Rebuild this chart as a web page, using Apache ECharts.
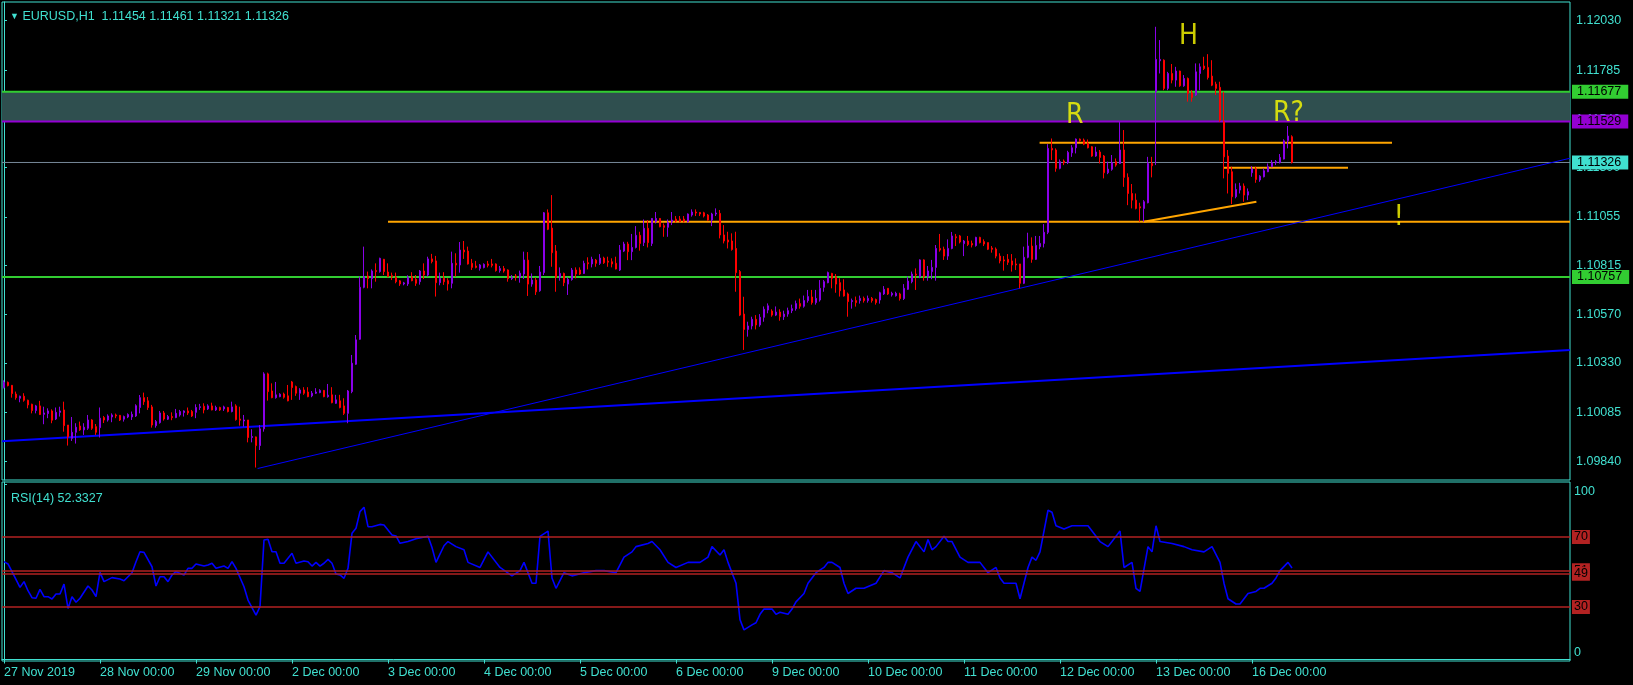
<!DOCTYPE html>
<html><head><meta charset="utf-8">
<script src="https://cdn.jsdelivr.net/npm/echarts@6/dist/echarts.min.js"></script>
<style>html,body{margin:0;padding:0;background:#000}#c{width:1633px;height:685px}</style>
</head><body><div id="c"></div>
<script>
// ---- tick labels ----
const dayLabels = ['27 Nov 2019','28 Nov 00:00','29 Nov 00:00','2 Dec 00:00','3 Dec 00:00','4 Dec 00:00','5 Dec 00:00','6 Dec 00:00','9 Dec 00:00','10 Dec 00:00','11 Dec 00:00','12 Dec 00:00','13 Dec 00:00','16 Dec 00:00'];
const barsPerDay = 24;
const slotCount = 392; // hourly slots shown, incl. empty space right of last bar
const priceTicks = [1.12030,1.11785,1.11540,1.11300,1.11055,1.10815,1.10570,1.10330,1.10085,1.09840];
const rsiTicks = [0,100];

// ---- EURUSD H1 bars: [open, high, low, close] ----
const hourlyBars = [
[1.10208,1.10244,1.10204,1.10234],[1.10234,1.10238,1.10214,1.10218],[1.10219,1.10221,1.10158,1.10178],[1.10176,1.10188,1.10148,1.10158],
[1.10155,1.10168,1.10135,1.10165],[1.10165,1.10180,1.10138,1.10145],[1.10145,1.10148,1.10105,1.10122],[1.10125,1.10128,1.10080,1.10094],
[1.10094,1.10122,1.10080,1.10117],[1.10117,1.10142,1.10072,1.10074],[1.10075,1.10113,1.10026,1.10082],[1.10079,1.10105,1.10056,1.10092],
[1.10092,1.10100,1.10031,1.10046],[1.10052,1.10109,1.10047,1.10085],[1.10085,1.10113,1.10064,1.10092],[1.10097,1.10138,1.09989,1.10019],
[1.10022,1.10022,1.09920,1.09963],[1.09956,1.10062,1.09943,1.09986],[1.09986,1.10031,1.09930,1.10011],[1.10017,1.10039,1.09993,1.09998],
[1.09998,1.10031,1.09973,1.10011],[1.10006,1.10072,1.09998,1.10047],[1.10047,1.10051,1.09998,1.10006],[1.10014,1.10027,1.09973,1.09986],
[1.10009,1.10109,1.09960,1.10056],[1.10059,1.10067,1.10032,1.10047],[1.10047,1.10075,1.10039,1.10067],[1.10062,1.10080,1.10036,1.10072],
[1.10072,1.10079,1.10056,1.10067],[1.10070,1.10072,1.10042,1.10047],[1.10051,1.10069,1.10039,1.10064],[1.10062,1.10080,1.10056,1.10074],
[1.10062,1.10089,1.10047,1.10075],[1.10067,1.10125,1.10062,1.10118],[1.10109,1.10171,1.10080,1.10158],[1.10158,1.10183,1.10122,1.10138],
[1.10142,1.10161,1.10097,1.10109],[1.10112,1.10122,1.10009,1.10022],[1.10019,1.10047,1.10009,1.10039],[1.10034,1.10092,1.10029,1.10082],
[1.10082,1.10092,1.10044,1.10052],[1.10051,1.10072,1.10047,1.10064],[1.10064,1.10085,1.10046,1.10059],[1.10059,1.10102,1.10056,1.10080],
[1.10072,1.10097,1.10064,1.10089],[1.10084,1.10095,1.10064,1.10092],[1.10092,1.10109,1.10072,1.10082],[1.10089,1.10097,1.10062,1.10067],
[1.10085,1.10125,1.10056,1.10109],[1.10109,1.10127,1.10097,1.10113],[1.10115,1.10130,1.10080,1.10097],[1.10102,1.10125,1.10097,1.10117],
[1.10117,1.10133,1.10095,1.10097],[1.10097,1.10118,1.10092,1.10109],[1.10109,1.10113,1.10092,1.10097],[1.10102,1.10118,1.10092,1.10112],
[1.10109,1.10112,1.10085,1.10089],[1.10089,1.10138,1.10085,1.10112],[1.10117,1.10125,1.10044,1.10049],[1.10052,1.10113,1.10019,1.10046],
[1.10042,1.10072,1.10014,1.10047],[1.10047,1.10047,1.09936,1.09960],[1.09960,1.10001,1.09936,1.09965],[1.09963,1.09965,1.09811,1.09920],
[1.09920,1.10022,1.09898,1.10003],[1.10003,1.10284,1.09989,1.10276],[1.10276,1.10282,1.10143,1.10188],[1.10191,1.10229,1.10155,1.10158],
[1.10158,1.10236,1.10153,1.10172],[1.10163,1.10180,1.10160,1.10175],[1.10176,1.10183,1.10153,1.10160],[1.10167,1.10221,1.10140,1.10142],
[1.10236,1.10241,1.10147,1.10208],[1.10213,1.10218,1.10167,1.10180],[1.10180,1.10205,1.10147,1.10196],[1.10196,1.10210,1.10172,1.10180],
[1.10186,1.10210,1.10160,1.10163],[1.10167,1.10191,1.10160,1.10180],[1.10180,1.10205,1.10176,1.10186],[1.10183,1.10200,1.10180,1.10194],
[1.10194,1.10196,1.10160,1.10163],[1.10163,1.10226,1.10158,1.10170],[1.10172,1.10210,1.10130,1.10133],[1.10130,1.10172,1.10127,1.10147],
[1.10142,1.10172,1.10105,1.10109],[1.10117,1.10155,1.10072,1.10080],[1.10080,1.10196,1.10031,1.10191],[1.10188,1.10370,1.10180,1.10329],
[1.10324,1.10469,1.10321,1.10445],[1.10448,1.10759,1.10445,1.10706],[1.10706,1.10908,1.10701,1.10759],[1.10762,1.10784,1.10701,1.10749],
[1.10749,1.10795,1.10701,1.10787],[1.10789,1.10825,1.10734,1.10784],[1.10784,1.10853,1.10779,1.10850],[1.10845,1.10847,1.10767,1.10784],
[1.10782,1.10825,1.10756,1.10759],[1.10764,1.10779,1.10742,1.10759],[1.10756,1.10779,1.10726,1.10734],[1.10738,1.10742,1.10713,1.10723],
[1.10723,1.10733,1.10716,1.10728],[1.10723,1.10766,1.10713,1.10756],[1.10759,1.10781,1.10736,1.10739],[1.10746,1.10767,1.10713,1.10726],
[1.10734,1.10792,1.10719,1.10787],[1.10787,1.10825,1.10747,1.10767],[1.10767,1.10858,1.10759,1.10847],[1.10847,1.10872,1.10825,1.10834],
[1.10837,1.10862,1.10660,1.10729],[1.10729,1.10779,1.10716,1.10751],[1.10751,1.10781,1.10718,1.10734],[1.10739,1.10751,1.10690,1.10723],
[1.10726,1.10883,1.10701,1.10825],[1.10825,1.10875,1.10759,1.10817],[1.10817,1.10931,1.10779,1.10891],[1.10891,1.10936,1.10847,1.10882],
[1.10886,1.10908,1.10819,1.10822],[1.10825,1.10847,1.10792,1.10805],[1.10812,1.10837,1.10800,1.10805],[1.10800,1.10822,1.10789,1.10817],
[1.10804,1.10825,1.10800,1.10820],[1.10822,1.10837,1.10805,1.10815],[1.10822,1.10847,1.10805,1.10815],[1.10822,1.10825,1.10784,1.10789],
[1.10789,1.10812,1.10779,1.10799],[1.10799,1.10812,1.10779,1.10787],[1.10792,1.10795,1.10734,1.10749],[1.10749,1.10767,1.10742,1.10754],
[1.10762,1.10772,1.10739,1.10756],[1.10756,1.10789,1.10729,1.10776],[1.10772,1.10883,1.10747,1.10842],[1.10841,1.10881,1.10663,1.10722],
[1.10722,1.10775,1.10709,1.10742],[1.10742,1.10755,1.10668,1.10684],[1.10689,1.10812,1.10684,1.10782],[1.10779,1.11080,1.10767,1.11076],
[1.11076,1.11093,1.10990,1.10994],[1.11000,1.11164,1.10808,1.10878],[1.10886,1.10916,1.10684,1.10755],[1.10755,1.10805,1.10739,1.10775],
[1.10775,1.10779,1.10712,1.10729],[1.10722,1.10755,1.10668,1.10745],[1.10745,1.10802,1.10739,1.10792],[1.10792,1.10805,1.10750,1.10772],
[1.10792,1.10805,1.10767,1.10772],[1.10775,1.10838,1.10772,1.10825],[1.10828,1.10855,1.10795,1.10823],[1.10822,1.10858,1.10805,1.10845],
[1.10841,1.10847,1.10808,1.10825],[1.10825,1.10871,1.10817,1.10851],[1.10851,1.10858,1.10822,1.10828],[1.10836,1.10858,1.10808,1.10831],
[1.10833,1.10850,1.10805,1.10822],[1.10825,1.10858,1.10795,1.10797],[1.10792,1.10916,1.10787,1.10891],[1.10886,1.10932,1.10881,1.10921],
[1.10921,1.10932,1.10841,1.10883],[1.10883,1.10971,1.10841,1.10904],[1.10904,1.11010,1.10899,1.10964],[1.10964,1.10982,1.10888,1.10924],
[1.10928,1.11043,1.10911,1.10999],[1.10999,1.11040,1.10904,1.10928],[1.10924,1.11050,1.10911,1.11048],[1.11033,1.11080,1.11023,1.11048],
[1.11048,1.11050,1.11004,1.11007],[1.11012,1.11023,1.10957,1.11004],[1.11004,1.11043,1.10957,1.11028],[1.11032,1.11080,1.11015,1.11040],
[1.11045,1.11060,1.11027,1.11035],[1.11045,1.11060,1.11028,1.11032],[1.11045,1.11060,1.11028,1.11035],[1.11032,1.11073,1.11027,1.11070],
[1.11065,1.11093,1.11057,1.11080],[1.11080,1.11093,1.11060,1.11075],[1.11078,1.11080,1.11060,1.11070],[1.11076,1.11081,1.11053,1.11060],
[1.11065,1.11070,1.11037,1.11040],[1.11040,1.11076,1.11010,1.11070],[1.11070,1.11098,1.11060,1.11075],[1.11073,1.11090,1.10949,1.10966],
[1.10966,1.11015,1.10924,1.10936],[1.10941,1.10982,1.10899,1.10931],[1.10936,1.10974,1.10888,1.10894],[1.10899,1.10982,1.10684,1.10779],
[1.10784,1.10792,1.10563,1.10568],[1.10573,1.10659,1.10395,1.10497],[1.10497,1.10535,1.10461,1.10514],[1.10514,1.10560,1.10497,1.10547],
[1.10547,1.10568,1.10497,1.10519],[1.10519,1.10573,1.10510,1.10557],[1.10557,1.10611,1.10535,1.10597],[1.10593,1.10626,1.10577,1.10614],
[1.10588,1.10597,1.10560,1.10568],[1.10568,1.10611,1.10563,1.10583],[1.10583,1.10597,1.10540,1.10560],[1.10560,1.10590,1.10544,1.10573],
[1.10573,1.10605,1.10560,1.10590],[1.10590,1.10620,1.10578,1.10600],[1.10600,1.10640,1.10590,1.10625],[1.10625,1.10650,1.10600,1.10612],
[1.10612,1.10665,1.10605,1.10640],[1.10640,1.10693,1.10630,1.10660],[1.10658,1.10693,1.10620,1.10630],[1.10630,1.10693,1.10620,1.10651],
[1.10643,1.10742,1.10635,1.10701],[1.10706,1.10742,1.10684,1.10734],[1.10729,1.10784,1.10726,1.10779],[1.10775,1.10778,1.10701,1.10751],
[1.10759,1.10772,1.10679,1.10722],[1.10729,1.10751,1.10660,1.10689],[1.10693,1.10746,1.10660,1.10663],[1.10673,1.10680,1.10560,1.10635],
[1.10635,1.10650,1.10600,1.10640],[1.10640,1.10660,1.10610,1.10630],[1.10640,1.10665,1.10625,1.10651],[1.10651,1.10660,1.10630,1.10640],
[1.10640,1.10665,1.10630,1.10651],[1.10651,1.10658,1.10630,1.10640],[1.10645,1.10650,1.10620,1.10630],[1.10643,1.10684,1.10625,1.10679],
[1.10673,1.10712,1.10668,1.10696],[1.10701,1.10701,1.10668,1.10673],[1.10668,1.10684,1.10660,1.10676],[1.10664,1.10684,1.10660,1.10676],
[1.10673,1.10679,1.10640,1.10650],[1.10650,1.10722,1.10643,1.10701],[1.10696,1.10759,1.10693,1.10737],[1.10734,1.10784,1.10726,1.10772],
[1.10772,1.10800,1.10693,1.10767],[1.10759,1.10845,1.10751,1.10842],[1.10842,1.10845,1.10739,1.10759],[1.10759,1.10812,1.10739,1.10787],
[1.10784,1.10842,1.10746,1.10805],[1.10805,1.10916,1.10739,1.10899],[1.10899,1.10971,1.10883,1.10891],[1.10895,1.10908,1.10842,1.10861],
[1.10861,1.10944,1.10842,1.10899],[1.10899,1.10981,1.10895,1.10961],[1.10957,1.10971,1.10911,1.10952],[1.10961,1.10966,1.10924,1.10931],
[1.10923,1.10941,1.10861,1.10936],[1.10936,1.10961,1.10911,1.10919],[1.10924,1.10938,1.10904,1.10916],[1.10913,1.10957,1.10908,1.10954],
[1.10954,1.10957,1.10924,1.10928],[1.10933,1.10944,1.10911,1.10921],[1.10928,1.10928,1.10891,1.10895],[1.10901,1.10911,1.10878,1.10895],
[1.10896,1.10904,1.10850,1.10861],[1.10861,1.10875,1.10825,1.10837],[1.10842,1.10861,1.10789,1.10837],[1.10845,1.10871,1.10817,1.10830],
[1.10837,1.10871,1.10784,1.10817],[1.10822,1.10850,1.10792,1.10817],[1.10822,1.10822,1.10701,1.10726],[1.10726,1.10908,1.10722,1.10855],
[1.10855,1.10977,1.10850,1.10911],[1.10911,1.10954,1.10828,1.10845],[1.10845,1.10961,1.10842,1.10914],[1.10908,1.10961,1.10895,1.10924],
[1.10924,1.11020,1.10904,1.10979],[1.10979,1.11417,1.10970,1.11396],[1.11396,1.11445,1.11338,1.11388],[1.11388,1.11396,1.11280,1.11297],
[1.11297,1.11341,1.11292,1.11330],[1.11333,1.11341,1.11313,1.11325],[1.11325,1.11384,1.11318,1.11376],[1.11374,1.11412,1.11354,1.11399],
[1.11399,1.11445,1.11371,1.11442],[1.11442,1.11445,1.11429,1.11434],[1.11437,1.11445,1.11412,1.11417],[1.11421,1.11440,1.11396,1.11399],
[1.11404,1.11407,1.11354,1.11358],[1.11358,1.11404,1.11354,1.11378],[1.11378,1.11388,1.11321,1.11351],[1.11358,1.11363,1.11247,1.11275],
[1.11275,1.11330,1.11268,1.11293],[1.11292,1.11363,1.11285,1.11325],[1.11330,1.11346,1.11305,1.11313],[1.11321,1.11528,1.11318,1.11388],
[1.11388,1.11487,1.11205,1.11252],[1.11252,1.11272,1.11114,1.11172],[1.11172,1.11219,1.11098,1.11139],[1.11139,1.11172,1.11093,1.11098],
[1.11106,1.11126,1.11032,1.11100],[1.11098,1.11139,1.11032,1.11131],[1.11126,1.11354,1.11123,1.11321],[1.11321,1.11354,1.11252,1.11310],
[1.11677,1.12000,1.11313,1.11838],[1.11831,1.11934,1.11768,1.11838],[1.11834,1.11838,1.11685,1.11694],[1.11694,1.11776,1.11685,1.11768],
[1.11768,1.11815,1.11719,1.11735],[1.11735,1.11801,1.11702,1.11780],[1.11780,1.11782,1.11702,1.11707],[1.11707,1.11760,1.11702,1.11743],
[1.11743,1.11748,1.11628,1.11669],[1.11672,1.11685,1.11628,1.11649],[1.11661,1.11818,1.11656,1.11776],[1.11768,1.11818,1.11685,1.11801],
[1.11805,1.11851,1.11785,1.11793],[1.11798,1.11864,1.11738,1.11748],[1.11755,1.11834,1.11705,1.11710],[1.11715,1.11727,1.11661,1.11694],
[1.11699,1.11727,1.11528,1.11536],[1.11528,1.11677,1.11247,1.11354],[1.11358,1.11388,1.11172,1.11272],[1.11280,1.11305,1.11119,1.11156],
[1.11156,1.11222,1.11148,1.11192],[1.11189,1.11225,1.11172,1.11209],[1.11209,1.11222,1.11131,1.11164],[1.11164,1.11197,1.11139,1.11181],
[1.11275,1.11308,1.11255,1.11293],[1.11293,1.11305,1.11225,1.11242],[1.11239,1.11263,1.11230,1.11258],[1.11255,1.11297,1.11252,1.11285],
[1.11280,1.11321,1.11278,1.11305],[1.11305,1.11338,1.11302,1.11325],[1.11325,1.11338,1.11313,1.11330],[1.11325,1.11368,1.11321,1.11351],
[1.11343,1.11441,1.11341,1.11434],[1.11434,1.11507,1.11396,1.11457],[1.11454,1.11461,1.11321,1.11326]
];

// ---- RSI(14): [bar index, value] ----
const rsiPoints = [
[0,55.9],[1,54.6],[2,50.2],[4,41.2],[5,44.5],[6,39.3],[7,35.3],[8,35],[9,40.1],[10,35.9],[11,35.9],[12,34.6],[13,37.4],[14,37.4],[15,43.1],[16,29.2],[17,35.9],[18,32.7],[19,35],[21,42],[22,39.7],[23,35.9],[24,49.8],[25,44.5],[27,46.8],[29,46],[30,45],[32,49.6],[33,55.9],[34,61.6],[35,61.2],[37,53],[38,42],[39,47.3],[40,47.3],[41,44.5],[42,48.3],[43,50.2],[45,48.3],[46,52.1],[47,52.1],[48,54.6],[50,53.4],[51,54],[52,55],[53,52.1],[55,53.4],[56,52.1],[57,55.9],[58,52.1],[60,41.6],[61,34],[63,25.4],[64,30.2],[65,68.3],[66,68.7],[67,61.6],[68,61.6],[69,55],[70,55],[72,60.7],[73,55],[75,56.3],[76,55.9],[77,53.4],[78,55.5],[79,53.4],[80,55],[81,57.2],[82,55],[83,48.9],[84,48.3],[85,46.4],[86,52.1],[87,72.1],[88,75],[89,84.5],[90,87],[91,75.9],[92,75.9],[94,77.2],[95,76.9],[97,71.1],[98,70.6],[99,66.4],
[101,67.4],[103,69],[106,70.4],[107,64],[108,55.5],[110,65],[111,67.4],[113,64.5],[115,62.7],[116,55.5],[119,52.6],[121,61.5],[124,52.6],[127,47.8],[129,50.8],[130,55.5],[132,43.6],[133,43.6],[134,70.4],[136,73.4],[137,46.6],[138,40.7],[140,49.6],[142,47.8],[145,49.6],[148,50.8],[150,50.8],[153,49.6],[155,58.5],[157,61.5],[158,64.5],[161,66.3],[162,67.4],[164,62.7],[166,55.5],[168,52.6],[171,55.5],[174,55.5],[176,58.5],[177,64.5],[179,59.7],[180,62.7],[181,55.5],[183,43.6],[184,22.8],[185,16.9],[187,19.8],[188,21],[189,25.8],[190,28.8],[192,28.8],[193,25.8],[194,27],[196,25.8],[197,28.8],[198,32.9],[200,37.7],[201,43.6],[203,49.6],[205,52.6],[206,55.5],[207,55.5],[209,52.6],[210,43.6],[211,37.7],[213,40.7],[215,40.7],[218,43.6],[220,50.8],[222,49.6],[224,46.6],[226,58.5],[228,67.4],[230,61.5],[231,68.6],[232,62.7],[233,64.5],[235,70.4],[236,67.4],[237,67.4],[239,58.5],[241,55.5],[244,55.5],[246,49.6],[248,52.6],[249,46.6],[250,43.6],[253,43.6],[254,34.7],[256,52.6],[257,58.5],[258,56.7],[259,61.5],[261,85.3],[262,84.1],[263,76.4],[265,74.6],[267,76.4],[270,76.4],[271,76.4],[272,73.4],[273,70.4],[274,67.4],[276,64.5],[277,67.4],[279,73.4],[280,52.6],[282,55.5],[283,40.7],[284,38.9],[286,64.5],[287,61.5],[288,76.4],[289,67.4],[292,66.3],[295,64.5],[297,62.7],[300,61.5],[302,64.5],[304,55.5],[305,43.6],[306,34.7],[308,31.7],[309,31.7],[310,34.7],[311,37.7],[313,38.9],[314,40.7],[315,40.7],[317,43.6],[318,46.6],[319,50.8],[321,55.5],[322,52.3327]
];
const rsiLevels = [70, 51, 49, 30];

// ---- drawn objects (in bar index / price terms) ----
const zoneBand = [1.11529, 1.11677];
const bidPrice = 1.11326;
const supportLevel = 1.10757;
const orangeSegments = [
  [[96, 1.11032], [391.5, 1.11032]],
  [[258.9, 1.11424], [347, 1.11424]],
  [[304.9, 1.11300], [336, 1.11300]],
  [[284.9, 1.11032], [313.1, 1.11131]]
];
const blueTrendFlat = [[-0.5, 1.09942], [391.5, 1.10395]];
const blueTrendSteep = [[63.4, 1.09806], [391.5, 1.11347]];
const notes = [
  {text: 'H', bar: 296.1, price: 1.11953},
  {text: 'R', bar: 267.7, price: 1.11558},
  {text: 'R?', bar: 321.1, price: 1.11570},
  {text: '!', bar: 348.7, price: 1.11050}
];

// ---- build ----
const CY = '#40e0d0';
const FONT = '"Liberation Sans", Arial, sans-serif';
const FS = 12.5;
const cats = Array.from({length: slotCount}, (_, i) => String(i));
const lastBar = hourlyBars.length - 1;
const candleData = hourlyBars.map(b => [b[0], b[3], b[2], b[1]]);
const showIdx = i => i % barsPerDay === 0 && i <= lastBar;
const lb = hourlyBars[lastBar];
const xL = -0.5, xR = slotCount - 0.5;

// horizontal price line spanning the whole panel, with its price box at the right
function hLineSeries(v, color, width, boxColor, z) {
  return {type: 'line', xAxisIndex: 1, yAxisIndex: 0, data: [[xL, v], [xR, v]], symbol: 'none', silent: true, z: z,
    lineStyle: {color: color, width: width},
    endLabel: {show: true, distance: 2, formatter: () => v.toFixed(5), backgroundColor: boxColor, color: '#000',
      fontSize: FS, fontFamily: FONT, padding: [1, 7, 0, 5], lineHeight: 13}};
}
function lvl(v) {
  return {yAxis: v, lineStyle: {color: '#b22222', width: 1.5, type: 'solid'},
    label: {show: true, position: 'end', distance: 2, formatter: String(v),
      backgroundColor: '#b22222', color: '#000', fontSize: FS, fontFamily: FONT,
      padding: [1, 2, 0, 2], lineHeight: 13}};
}

const series = [];
// zone band filled between its two edges
series.push({type: 'line', xAxisIndex: 1, yAxisIndex: 0, data: [[xL, zoneBand[1]], [xR, zoneBand[1]]],
  symbol: 'none', silent: true, z: 1, lineStyle: {width: 0, opacity: 0},
  areaStyle: {color: '#2f4f4f', opacity: 1, origin: zoneBand[0]}});
series.push(hLineSeries(bidPrice, '#778899', 1, CY, 2));
series.push(hLineSeries(supportLevel, '#32cd32', 2, '#32cd32', 2));
series.push(hLineSeries(zoneBand[1], '#32cd32', 2, '#32cd32', 2));
series.push(hLineSeries(zoneBand[0], '#9400d3', 2, '#9400d3', 2));
orangeSegments.forEach(seg => series.push({type: 'line', xAxisIndex: 1, yAxisIndex: 0, data: seg,
  symbol: 'none', silent: true, z: 2, lineStyle: {color: '#ffa500', width: 2}}));
series.push({type: 'line', xAxisIndex: 1, yAxisIndex: 0, data: blueTrendFlat, symbol: 'none', silent: true, z: 2,
  lineStyle: {color: '#0000ff', width: 2}});
series.push({type: 'line', xAxisIndex: 1, yAxisIndex: 0, data: blueTrendSteep, symbol: 'none', silent: true, z: 2,
  lineStyle: {color: '#0000ff', width: 1}});
series.push({type: 'candlestick', xAxisIndex: 0, yAxisIndex: 0, data: candleData, z: 3, barWidth: 2,
  itemStyle: {color: '#8a00e8', color0: '#ff0000', borderColor: '#8a00e8', borderColor0: '#ff0000', borderWidth: 1}});
series.push({type: 'scatter', xAxisIndex: 1, yAxisIndex: 0, z: 4, symbolSize: 1, itemStyle: {color: 'rgba(0,0,0,0)'},
  data: notes.map(n => ({value: [n.bar, n.price], name: n.text})),
  label: {show: true, position: 'inside', formatter: p => p.name, color: '#ffff00', fontSize: 28,
    fontFamily: '"Liberation Sans Narrow", "DejaVu Sans Condensed", Arial, sans-serif'}});
// RSI
series.push({type: 'line', xAxisIndex: 3, yAxisIndex: 1, data: rsiPoints, symbol: 'none', z: 3,
  lineStyle: {color: '#0000ff', width: 1.6},
  markLine: {silent: true, symbol: ['none', 'none'], animation: false, data: rsiLevels.map(lvl)}});

const chart = echarts.init(document.getElementById('c'), null, {renderer: 'canvas'});
chart.setOption({
  animation: false,
  backgroundColor: '#000',
  title: [
    {text: '{t|▼} EURUSD,H1  ' + lb[0].toFixed(5) + ' ' + lb[1].toFixed(5) + ' ' + lb[2].toFixed(5) + ' ' + lb[3].toFixed(5),
     left: 5, top: 5, textStyle: {color: CY, fontSize: FS, fontWeight: 'normal', fontFamily: FONT,
     rich: {t: {fontSize: 9, color: CY}}}},
    {text: 'RSI(14) ' + rsiPoints[rsiPoints.length - 1][1].toFixed(4), left: 6, top: 487,
     textStyle: {color: CY, fontSize: FS, fontWeight: 'normal', fontFamily: FONT}}
  ],
  grid: [
    {left: 2, width: 1568, top: 2, height: 478, show: true, borderColor: CY, borderWidth: 1, backgroundColor: 'transparent'},
    {left: 2, width: 1568, top: 482, height: 179, show: true, borderColor: CY, borderWidth: 1, backgroundColor: 'transparent'}
  ],
  xAxis: [
    {type: 'category', gridIndex: 0, data: cats, boundaryGap: true, show: false},
    {type: 'value', gridIndex: 0, min: xL, max: xR, show: false},
    {type: 'category', gridIndex: 1, data: cats, boundaryGap: true,
     axisLine: {show: true, lineStyle: {color: CY, width: 1}},
     axisTick: {show: true, alignWithLabel: true, interval: i => showIdx(i), length: 4, lineStyle: {color: CY}},
     axisLabel: {show: true, interval: i => showIdx(i), align: 'left', margin: 5, color: CY, fontSize: FS, fontFamily: FONT,
       formatter: (v, i) => dayLabels[i / barsPerDay] || ''}},
    {type: 'value', gridIndex: 1, min: xL, max: xR, show: false}
  ],
  yAxis: [
    {type: 'value', gridIndex: 0, position: 'right', min: 1.09749, max: 1.12123,
     splitLine: {show: false},
     axisLine: {show: true, lineStyle: {color: CY}},
     axisTick: {show: true, customValues: priceTicks, length: 3, lineStyle: {color: CY}},
     axisLabel: {show: true, customValues: priceTicks, formatter: v => v.toFixed(5), color: CY, fontSize: FS, fontFamily: FONT, margin: 6}},
    {type: 'value', gridIndex: 1, position: 'right', min: -0.857, max: 101.43,
     splitLine: {show: false},
     axisLine: {show: true, lineStyle: {color: CY}},
     axisTick: {show: true, customValues: rsiTicks, length: 3, lineStyle: {color: CY}},
     axisLabel: {show: true, customValues: [3.7, 95.9], formatter: v => (v > 50 ? '100' : '0'), color: CY, fontSize: FS, fontFamily: FONT, margin: 4}}
  ],
  series: series
});
</script>
</body></html>
